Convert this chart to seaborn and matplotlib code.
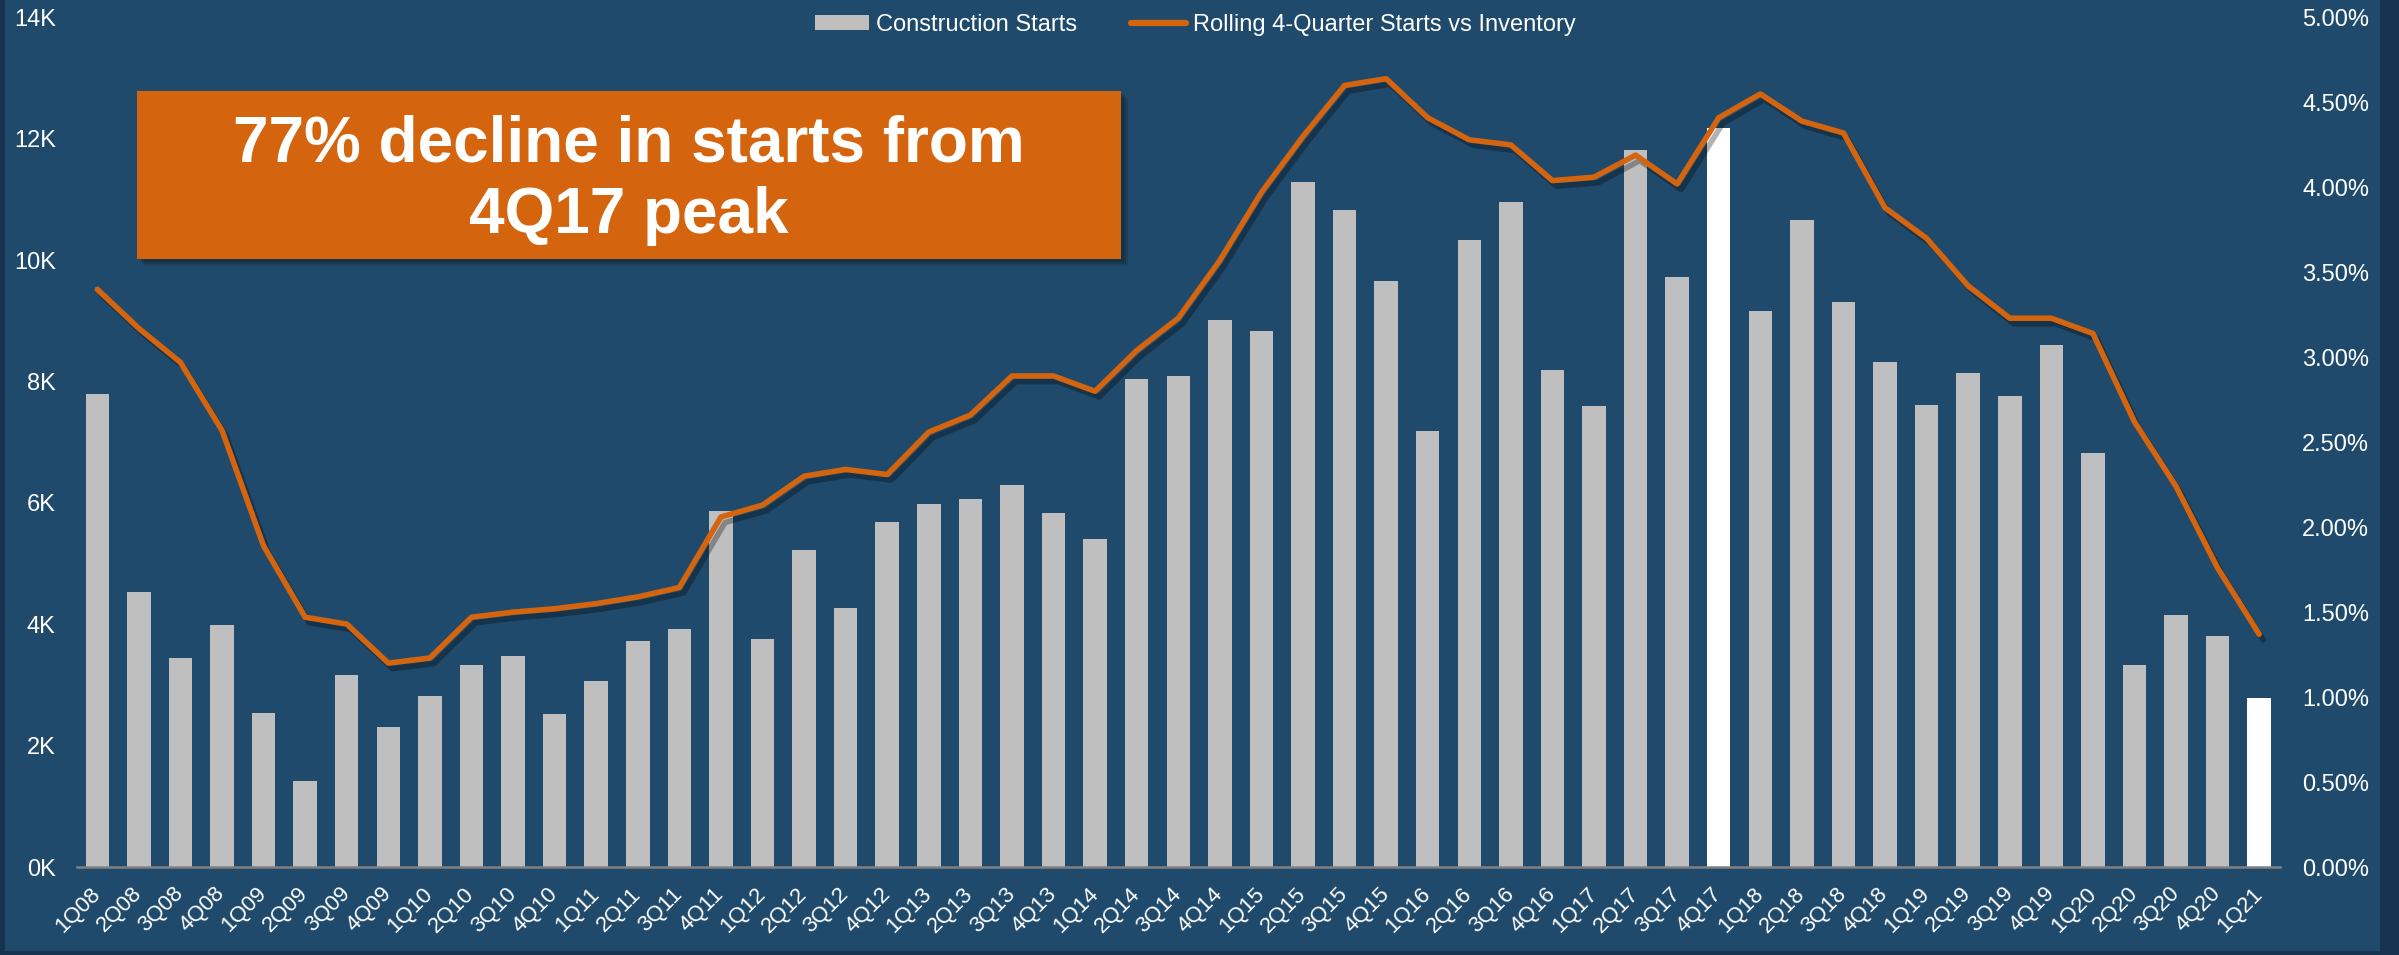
import numpy as np
import pandas as pd
import matplotlib
matplotlib.use("Agg")
import matplotlib.pyplot as plt
import seaborn as sns
from matplotlib.patches import Rectangle, FancyBboxPatch, Patch
from matplotlib.lines import Line2D
import matplotlib.patheffects as pe
from matplotlib.ticker import FuncFormatter, MultipleLocator

# ---------------- data ----------------
quarters = ["1Q08", "2Q08", "3Q08", "4Q08", "1Q09", "2Q09", "3Q09", "4Q09",
            "1Q10", "2Q10", "3Q10", "4Q10", "1Q11", "2Q11", "3Q11", "4Q11",
            "1Q12", "2Q12", "3Q12", "4Q12", "1Q13", "2Q13", "3Q13", "4Q13",
            "1Q14", "2Q14", "3Q14", "4Q14", "1Q15", "2Q15", "3Q15", "4Q15",
            "1Q16", "2Q16", "3Q16", "4Q16", "1Q17", "2Q17", "3Q17", "4Q17",
            "1Q18", "2Q18", "3Q18", "4Q18", "1Q19", "2Q19", "3Q19", "4Q19",
            "1Q20", "2Q20", "3Q20", "4Q20", "1Q21"]

starts_k = [7.79, 4.54, 3.45, 3.99, 2.54, 1.42, 3.17, 2.31,
            2.81, 3.33, 3.48, 2.52, 3.07, 3.73, 3.93, 5.87,
            3.76, 5.23, 4.27, 5.68, 5.99, 6.07, 6.30, 5.83,
            5.41, 8.05, 8.09, 9.01, 8.83, 11.29, 10.83, 9.65,
            7.18, 10.33, 10.96, 8.19, 7.59, 11.82, 9.72, 12.18,
            9.16, 10.66, 9.31, 8.32, 7.62, 8.14, 7.76, 8.61,
            6.83, 3.33, 4.16, 3.80, 2.79]

rolling_pct = [3.40, 3.17, 2.97, 2.57, 1.89, 1.47, 1.43, 1.20,
               1.23, 1.47, 1.50, 1.52, 1.55, 1.59, 1.645, 2.06,
               2.13, 2.30, 2.34, 2.31, 2.56, 2.66, 2.89, 2.89,
               2.80, 3.04, 3.23, 3.57, 3.97, 4.30, 4.60, 4.64,
               4.41, 4.28, 4.25, 4.04, 4.06, 4.19, 4.02, 4.41,
               4.55, 4.39, 4.32, 3.88, 3.70, 3.42, 3.23, 3.23,
               3.14, 2.62, 2.24, 1.76, 1.37]

highlight = ["4Q17", "1Q21"]

right_ticks_pct = [0.0, 0.5, 1.0, 1.5, 2.0, 2.5, 3.0, 3.5, 4.0, 4.5, 5.0]

series_names = ["Construction Starts", "Rolling 4-Quarter Starts vs Inventory"]
callout = "77% decline in starts from\n4Q17 peak"

# ---------------- style ----------------
BG = "#1F4A6B"
BORDER = "#163450"
BAR = "#BFBFBF"
HI = "#FFFFFF"
ORANGE = "#D5640E"
AXIS = "#808080"

sns.set_theme(style="white")
plt.rcParams["font.family"] = ["Liberation Sans", "DejaVu Sans"]

W, H = 2399, 955
fig = plt.figure(figsize=(W / 100, H / 100), dpi=100)
fig.patch.set_facecolor(BG)
# darker frame edges
fig.patches.append(Rectangle((2380 / W, 0), 1, 1, transform=fig.transFigure,
                             facecolor=BORDER, edgecolor="none", zorder=-10))
fig.patches.append(Rectangle((0, 0), 5 / W, 1, transform=fig.transFigure,
                             facecolor=BORDER, edgecolor="none", zorder=-10))
fig.patches.append(Rectangle((0, 0), 1, 4 / H, transform=fig.transFigure,
                             facecolor=BORDER, edgecolor="none", zorder=-10))

x0, x1 = 76.5, 2280
y_top, y_bot = 17.5, 867
ax = fig.add_axes([x0 / W, 1 - y_bot / H, (x1 - x0) / W, (y_bot - y_top) / H])
ax.set_facecolor("none")

df = pd.DataFrame({"quarter": quarters,
                   "starts": np.array(starts_k) * 1000,
                   "pct": np.array(rolling_pct) / 100})
colors = [HI if q in highlight else BAR for q in quarters]

sns.barplot(data=df, x="quarter", y="starts", hue="quarter", palette=colors,
            saturation=1, width=0.565, legend=False, ax=ax, zorder=2,
            edgecolor="none", linewidth=0)

ax.set_xlim(-0.5, len(quarters) - 0.5)
ax.set_ylim(0, 14000)
ax.yaxis.set_major_locator(MultipleLocator(2000))
ax.yaxis.set_major_formatter(FuncFormatter(lambda v, p: f"{int(round(v / 1000))}K"))
ax.set_xlabel("")
ax.set_ylabel("")
for s in ["top", "right", "left"]:
    ax.spines[s].set_visible(False)
ax.spines["bottom"].set_color(AXIS)
ax.spines["bottom"].set_linewidth(1.8)
ax.spines["bottom"].set_zorder(3)
ax.tick_params(axis="y", length=0, pad=15, labelsize=17, labelcolor="white")
ax.tick_params(axis="x", length=0, pad=17, labelsize=16, labelcolor="white")
for lab in ax.get_xticklabels():
    lab.set_rotation(45)
    lab.set_ha("right")
    lab.set_va("center")
    lab.set_rotation_mode("anchor")
ax.grid(False)

# twin axis for line
ax2 = ax.twinx()
ax2.set_facecolor("none")
df["pos"] = np.arange(len(quarters))
sns.lineplot(data=df, x="pos", y="pct", ax=ax2, color=ORANGE, linewidth=4.0,
             sort=False, zorder=5,
             path_effects=[pe.SimpleLineShadow(offset=(3, -4), shadow_color="black", alpha=0.3),
                           pe.Normal()])
ax2.set_ylim(0, 0.05)
ax2.set_yticks(np.array(right_ticks_pct) / 100)
ax2.yaxis.set_major_formatter(FuncFormatter(lambda v, p: f"{v * 100:.2f}%"))
ax2.set_xlim(-0.5, len(quarters) - 0.5)
ax2.set_xlabel("")
ax2.set_ylabel("")
for s in ["top", "right", "left", "bottom"]:
    ax2.spines[s].set_visible(False)
ax2.tick_params(axis="y", length=0, pad=16, labelsize=17, labelcolor="white")
ax2.grid(False)

# legend
handles = [Patch(facecolor=BAR, edgecolor="none"),
           Line2D([0], [0], color=ORANGE, linewidth=4.5)]
leg = fig.legend(handles, series_names, loc="center", bbox_to_anchor=(1195 / W, 1 - 25 / H),
                 ncol=2, frameon=False, fontsize=17, handlelength=2.3,
                 handleheight=0.6, handletextpad=0.3, columnspacing=2.3)
for t in leg.get_texts():
    t.set_color("white")

# callout box with shadow
bx0, bx1, by0, by1 = 137, 1121, 91, 259
for i, a in enumerate([0.12, 0.12, 0.12]):
    off = 3 + 2 * i
    fig.patches.append(FancyBboxPatch((bx0 / W + off / W, 1 - by1 / H - off / H),
                                      (bx1 - bx0) / W, (by1 - by0) / H,
                                      boxstyle="square,pad=0", transform=fig.transFigure,
                                      facecolor="black", edgecolor="none", alpha=a, zorder=8))
fig.patches.append(FancyBboxPatch((bx0 / W, 1 - by1 / H), (bx1 - bx0) / W, (by1 - by0) / H,
                                  boxstyle="square,pad=0", transform=fig.transFigure,
                                  facecolor=ORANGE, edgecolor="none", zorder=9))
fig.text((bx0 + bx1) / 2 / W, 1 - 180 / H, callout, ha="center", va="center",
         fontsize=46, fontweight="bold", color="white", linespacing=1.25, zorder=10)

fig.savefig("out.png", dpi=100, facecolor=fig.get_facecolor())
